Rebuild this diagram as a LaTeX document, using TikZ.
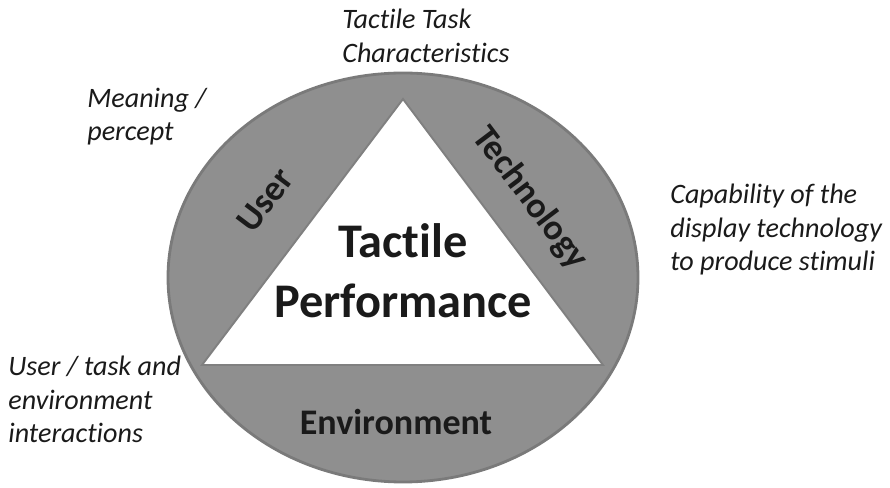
\documentclass[tikz,border=0pt]{standalone}
\usepackage{fontspec}
\setmainfont{Carlito}[Ligatures=NoCommon]
\usepackage{tikz}
\usetikzlibrary{shapes.geometric,positioning}
\definecolor{ringfill}{HTML}{8F8F8F}
\definecolor{ringline}{HTML}{7A7A7A}
\definecolor{triline}{HTML}{808080}
\definecolor{textdark}{HTML}{1A1A1A}

\begin{document}
\begin{tikzpicture}
      \tikzstyle{ring} = [draw=ringline, line width=1.6pt, fill=ringfill, ellipse, inner sep=0pt, minimum width=9.4cm, minimum height=8.18cm]
      \tikzstyle{side} = [font=\fontsize{20.5}{24}\selectfont\bfseries, text=textdark, inner sep=0pt]
      \tikzstyle{note} = [font=\fontsize{16}{18.9}\selectfont\itshape, text=textdark, align=left, inner sep=0pt, anchor=north west]

      \useasboundingbox (-8.06,-4.21) rectangle (9.74,5.55);

      %%%%%%%%%%%%%%%%%%%%%%%%%%%%%%
      %% The ring and the triangle
      %%%%%%%%%%%%%%%%%%%%%%%%%%%%%%
      \node[ring] (ring) at (0,0) {};

      \coordinate (apex) at (0,3.57);
      \coordinate (bl) at (-4.02,-1.75);
      \coordinate (br) at (4.0,-1.75);
      \draw[draw=triline, line width=1.1pt, fill=white] (apex) -- (br) -- (bl) -- cycle;

      \node[font=\fontsize{27.5}{34}\selectfont\bfseries, text=textdark, align=center] (perf) at (0,0.13) {Tactile\\Performance};

      %%%%%%%%%%%%%%%%%%%%%%%%%%%%%%
      %% The three sides
      %%%%%%%%%%%%%%%%%%%%%%%%%%%%%%
      \node[side, rotate=53] (user) at (-2.76,1.55) {User};
      \node[side, rotate=-53] (tech) at (2.54,1.58) {Technology};
      \node[side] (env) at (-0.14,-2.89) {Environment};

      %%%%%%%%%%%%%%%%%%%%%%%%%%%%%%
      %% Notes round the ring
      %%%%%%%%%%%%%%%%%%%%%%%%%%%%%%
      \node[note] (task) at (-1.22,5.37) {Tactile Task\\Characteristics};
      \node[note] (meaning) at (-6.32,3.79) {Meaning /\\percept};
      \node[note] (capab) at (5.34,1.87) {Capability of the\\display technology\\to produce stimuli};
      \node[note] (inter) at (-7.9,-1.57) {User / task and\\environment\\interactions};

\end{tikzpicture}
\end{document}
